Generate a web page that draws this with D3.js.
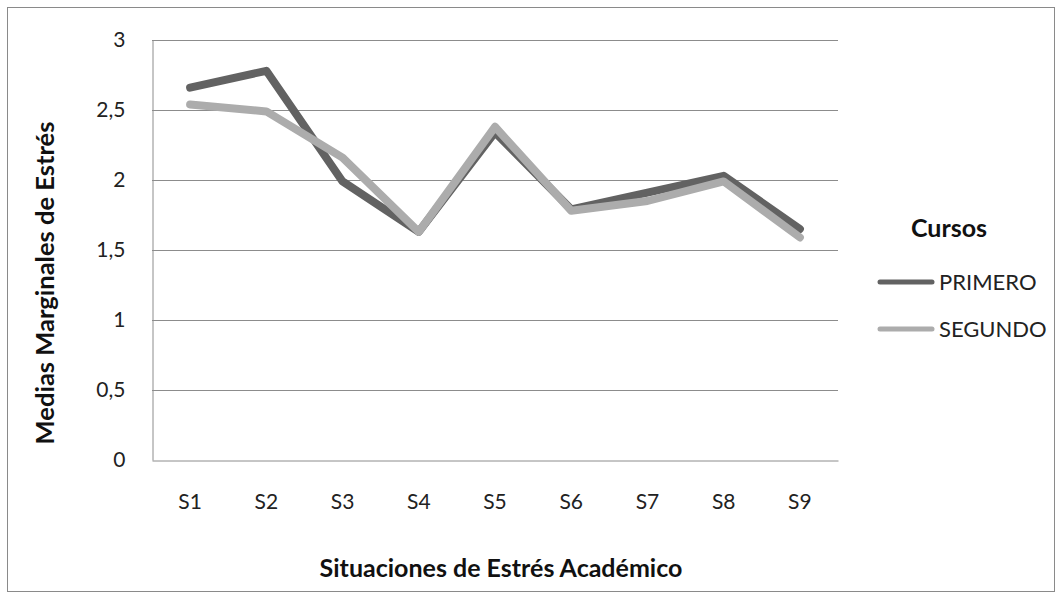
<!DOCTYPE html>
<html><head><meta charset="utf-8">
<script src="https://cdn.jsdelivr.net/npm/d3@7"></script>
<style>body{margin:0;background:#fff}svg{display:block}text{font-family:Lato,"Open Sans",sans-serif}</style>
</head><body>
<script>
const categories = ["S1","S2","S3","S4","S5","S6","S7","S8","S9"];
const primero = [2.66, 2.78, 1.99, 1.63, 2.34, 1.79, 1.91, 2.03, 1.65];
const segundo = [2.54, 2.49, 2.16, 1.63, 2.38, 1.78, 1.85, 1.99, 1.59];
const yTicks = [0, 0.5, 1, 1.5, 2, 2.5, 3];
const seriesNames = ["PRIMERO", "SEGUNDO"];
const seriesColors = ["#626262", "#acacac"];
const legendTitle = "Cursos";
const xTitle = "Situaciones de Estrés Académico";
const yTitle = "Medias Marginales de Estrés";

const W = 1062, H = 597;
const m = {left: 152, right: 838, top: 40, bottom: 460};
const svg = d3.select("body").append("svg").attr("width", W).attr("height", H);
svg.append("rect").attr("x", 7.5).attr("y", 7.5).attr("width", W - 15).attr("height", H - 13)
  .attr("fill", "#fff").attr("stroke", "#8a8a8a").attr("stroke-width", 1);

const x = d3.scaleBand().domain(categories).range([m.left, m.right]);
const y = d3.scaleLinear().domain([0, 3]).range([m.bottom, m.top]);

// gridlines
svg.append("g").selectAll("line").data(yTicks.filter(d => d > 0)).join("line")
  .attr("x1", m.left).attr("x2", m.right)
  .attr("y1", d => Math.round(y(d)) + 0.5).attr("y2", d => Math.round(y(d)) + 0.5)
  .attr("stroke", "#8c8c8c").attr("stroke-width", 1);

// axes
const yAxis = d3.axisLeft(y).tickValues(yTicks).tickSize(0).tickPadding(27)
  .tickFormat(d => String(d).replace(".", ","));
const gy = svg.append("g").attr("transform", `translate(${m.left + 0.5},0)`).call(yAxis);
gy.select(".domain").attr("stroke", "#8c8c8c");
gy.selectAll("text").attr("font-size", 21).attr("fill", "#222");

const xAxis = d3.axisBottom(x).tickSize(0).tickPadding(34);
const gx = svg.append("g").attr("transform", `translate(0,${m.bottom + 0.5})`).call(xAxis);
gx.select(".domain").attr("stroke", "#8c8c8c");
gx.selectAll("text").attr("font-size", 21).attr("fill", "#222");

// lines
const line = d3.line().x((d, i) => x(categories[i]) + x.bandwidth() / 2).y(d => y(d));
[primero, segundo].forEach((vals, k) => {
  svg.append("path").datum(vals).attr("d", line).attr("fill", "none")
    .attr("stroke", seriesColors[k]).attr("stroke-width", 8)
    .attr("stroke-linejoin", "round").attr("stroke-linecap", "round");
});

// titles
svg.append("text").attr("x", 501).attr("y", 577).attr("text-anchor", "middle")
  .attr("font-size", 25).attr("font-weight", "bold").attr("fill", "#111").text(xTitle);
svg.append("text").attr("transform", `translate(54,283) rotate(-90)`)
  .attr("text-anchor", "middle").attr("font-size", 25.5).attr("font-weight", "bold").attr("fill", "#111").text(yTitle);

// legend
svg.append("text").attr("x", 949).attr("y", 237).attr("text-anchor", "middle")
  .attr("font-size", 25).attr("font-weight", "bold").attr("fill", "#111").text(legendTitle);
seriesNames.forEach((n, k) => {
  const ly = 282 + k * 47;
  svg.append("line").attr("x1", 880).attr("x2", 932).attr("y1", ly).attr("y2", ly)
    .attr("stroke", seriesColors[k]).attr("stroke-width", 5).attr("stroke-linecap", "round");
  svg.append("text").attr("x", 939).attr("y", ly + 8).attr("font-size", 22).attr("fill", "#222").text(n);
});
</script>
</body></html>
